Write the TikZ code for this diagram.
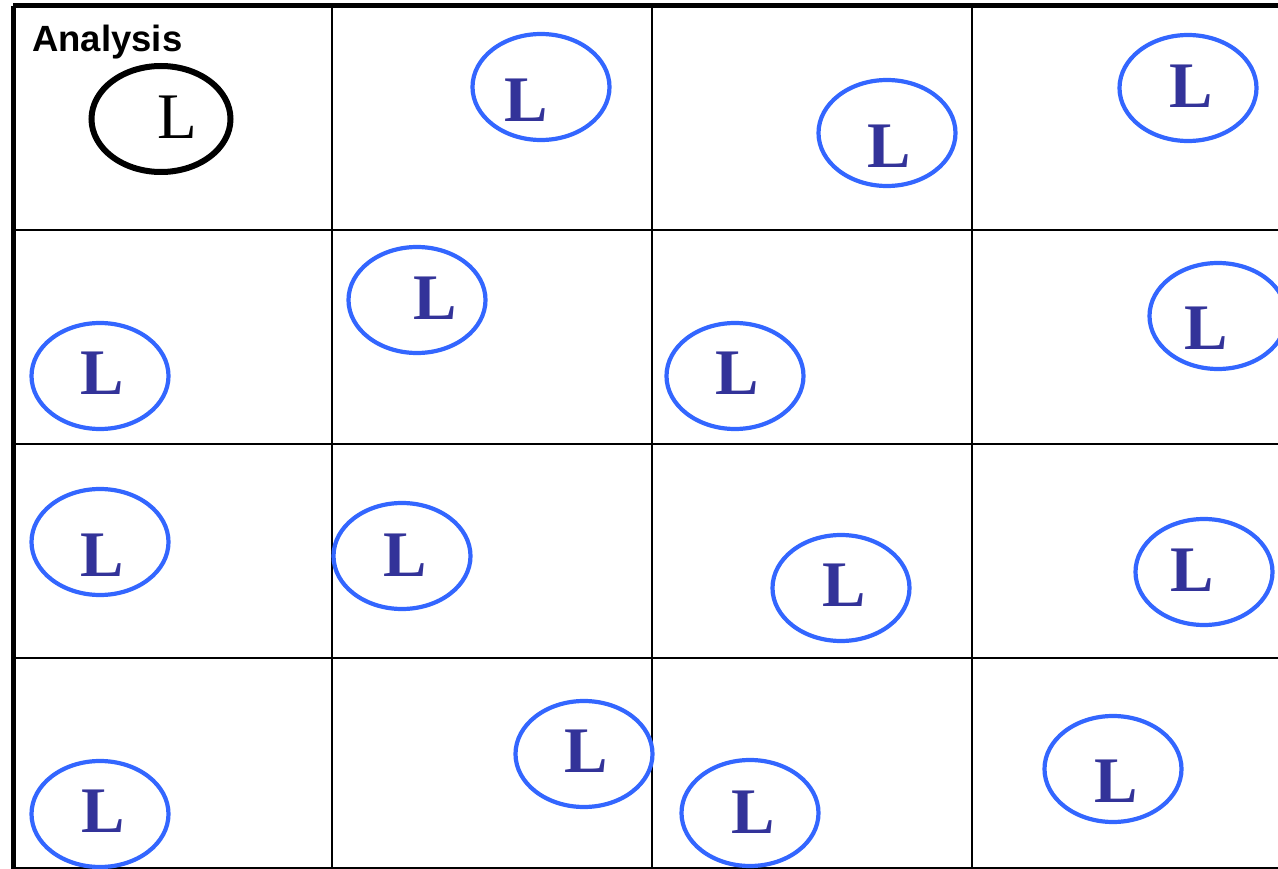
\documentclass[tikz,border=0pt]{standalone}
\usepackage{fontspec}
\setmainfont{Liberation Serif}
\newfontfamily\headfont{Liberation Sans}
\usetikzlibrary{shapes.geometric}
\definecolor{ringblue}{HTML}{3366FF}
\definecolor{letterblue}{HTML}{333399}
\tikzset{
  gridline/.style={line width=2.2pt, black},
  thickline/.style={line width=5pt, black},
  ring/.style={ellipse, draw=ringblue, line width=4.2pt, minimum width=137pt, minimum height=106pt, inner sep=0pt},
  blackring/.style={ellipse, draw=black, line width=6pt, minimum width=139pt, minimum height=106pt, inner sep=0pt},
  letter/.style={inner sep=0pt, text=letterblue, font=\fontsize{65}{65}\selectfont\bfseries},
  blackletter/.style={inner sep=0pt, text=black, font=\fontsize{65}{65}\selectfont},
  heading/.style={inner sep=0pt, anchor=base west, font=\headfont\bfseries\fontsize{36.5}{36.5}\selectfont}
}
\begin{document}
\begin{tikzpicture}[x=1pt,y=-1pt]
\useasboundingbox (0,0) rectangle (1278,869);
% grid corners
\coordinate (tl) at (13,6);
\coordinate (tr) at (1278,6);
\coordinate (bl) at (13,869);
\coordinate (h1l) at (13,230); \coordinate (h1r) at (1278,230);
\coordinate (h2l) at (13,444); \coordinate (h2r) at (1278,444);
\coordinate (h3l) at (13,658); \coordinate (h3r) at (1278,658);
\coordinate (h4l) at (13,868); \coordinate (h4r) at (1278,868);
\coordinate (v1t) at (332,6); \coordinate (v1b) at (332,869);
\coordinate (v2t) at (652,6); \coordinate (v2b) at (652,869);
\coordinate (v3t) at (972,6); \coordinate (v3b) at (972,869);
\draw[gridline] (h1l) -- (h1r);
\draw[gridline] (h2l) -- (h2r);
\draw[gridline] (h3l) -- (h3r);
\draw[line width=1.6pt] (h4l) -- (h4r);
\draw[gridline] (v1t) -- (v1b);
\draw[gridline] (v2t) -- (v2b);
\draw[gridline] (v3t) -- (v3b);
\draw[thickline] (tl) -- (tr);
\draw[thickline] (tl) -- (bl);
% heading
\node[heading] (title) at (32,52) {Analysis};
% black ring
\node[blackring] (e11) at (161,119) {};
\node[blackletter] (l11) at (177,117) {L};
% blue rings
\node[ring] (e12) at (541,87) {};   \node[letter] (l12) at (526,100) {L};
\node[ring] (e13) at (887,133) {};  \node[letter] (l13) at (889,146) {L};
\node[ring] (e14) at (1188,88) {};  \node[letter] (l14) at (1191,86) {L};
\node[ring] (e21) at (100,376) {};  \node[letter] (l21) at (102,373) {L};
\node[ring] (e22) at (417,300) {};  \node[letter] (l22) at (435,298) {L};
\node[ring] (e23) at (735,376) {};  \node[letter] (l23) at (737,373) {L};
\node[ring] (e24) at (1218,316) {}; \node[letter] (l24) at (1206,328) {L};
\node[ring] (e31) at (100,542) {};  \node[letter] (l31) at (102,555) {L};
\node[ring] (e32) at (402,556) {};  \node[letter] (l32) at (405,555) {L};
\node[ring] (e33) at (841,588) {};  \node[letter] (l33) at (844,585) {L};
\node[ring] (e34) at (1204,572) {}; \node[letter] (l34) at (1192,570) {L};
\node[ring] (e41) at (100,814) {};  \node[letter] (l41) at (103,811) {L};
\node[ring] (e42) at (584,754) {};  \node[letter] (l42) at (586,751) {L};
\node[ring] (e43) at (750,813) {};  \node[letter] (l43) at (753,812) {L};
\node[ring] (e44) at (1113,769) {}; \node[letter] (l44) at (1116,781) {L};
\end{tikzpicture}
\end{document}
